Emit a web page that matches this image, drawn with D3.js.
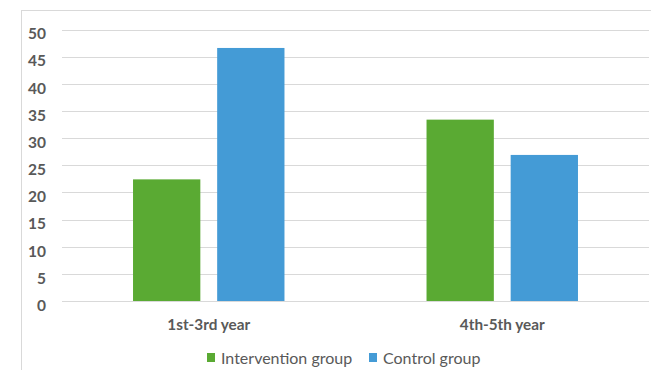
<!DOCTYPE html>
<html>
<head>
<meta charset="utf-8">
<script src="https://cdn.jsdelivr.net/npm/d3@7"></script>
<style>
  html, body { margin: 0; padding: 0; background: #fff; }
  svg { display: block; }
  text { font-family: Lato, "Open Sans", sans-serif; fill: #595959; }
</style>
</head>
<body>
<svg id="chart" width="651" height="370"></svg>
<script>
// Chart data
const categories = ["1st-3rd year", "4th-5th year"];
const seriesNames = ["Intervention group", "Control group"];
const interventionValues = [22.4, 33.4];
const controlValues = [46.6, 26.9];
const yTicks = [0, 5, 10, 15, 20, 25, 30, 35, 40, 45, 50];
const seriesColors = ["#5aaa33", "#449bd6"];

const svg = d3.select("#chart");
const W = 651, H = 370;

// Outer frame
svg.append("rect")
  .attr("x", 21.5).attr("y", 10.5)
  .attr("width", W).attr("height", H)
  .attr("fill", "none").attr("stroke", "#d9d9d9").attr("stroke-width", 1);

const plot = { left: 62, right: 649, top: 29.5, bottom: 301 };

const x0 = d3.scaleBand().domain(categories).range([plot.left, plot.right]);
const bw = x0.bandwidth();
const x1 = d3.scaleBand().domain(seriesNames)
  .range([bw * 0.242, bw * 0.758]).paddingInner(0.2);
const y = d3.scaleLinear().domain([0, 50]).range([plot.bottom, plot.top]);

// Gridlines
svg.append("g")
  .selectAll("line").data(yTicks).join("line")
  .attr("x1", plot.left).attr("x2", plot.right)
  .attr("y1", d => Math.round(y(d)) + 0.5).attr("y2", d => Math.round(y(d)) + 0.5)
  .attr("stroke", "#d9d9d9").attr("stroke-width", 1.2);

// Y axis labels
const yAxis = d3.axisLeft(y).tickValues(yTicks).tickSize(0).tickPadding(0);
const gy = svg.append("g").attr("transform", "translate(46,0)").call(yAxis);
gy.select(".domain").remove();
gy.selectAll("text")
  .attr("dy", "0.6em")
  .style("font-size", "15.5px").style("font-weight", "bold")
  .style("font-family", "Lato, 'Open Sans', sans-serif").attr("fill", "#595959");

// Bars
const rows = categories.map((c, i) => ({ cat: c, vals: [interventionValues[i], controlValues[i]] }));
const groups = svg.append("g").selectAll("g").data(rows).join("g")
  .attr("transform", d => `translate(${x0(d.cat)},0)`);
groups.selectAll("rect")
  .data(d => d.vals.map((v, j) => ({ name: seriesNames[j], v, j })))
  .join("rect")
  .attr("x", d => x1(d.name))
  .attr("width", x1.bandwidth())
  .attr("y", d => y(d.v))
  .attr("height", d => y(0) - y(d.v))
  .attr("fill", d => seriesColors[d.j]);

// Category labels
const xAxis = d3.axisBottom(x0).tickSize(0).tickPadding(0);
const gx = svg.append("g").attr("transform", "translate(0,319)").call(xAxis);
gx.select(".domain").remove();
gx.selectAll("text")
  .attr("dy", "0.75em")
  .style("font-size", "15.3px").style("font-weight", "bold")
  .style("font-family", "Lato, 'Open Sans', sans-serif").attr("fill", "#595959");

// Legend
const legendX = [207, 369];
const legend = svg.append("g").selectAll("g").data(seriesNames).join("g")
  .attr("transform", (d, i) => `translate(${legendX[i]},353)`);
legend.append("rect").attr("width", 8).attr("height", 9)
  .attr("fill", (d, i) => seriesColors[i]);
legend.append("text").attr("x", 14).attr("y", 10.5)
  .style("font-size", "16px").text(d => d);
</script>
</body>
</html>
